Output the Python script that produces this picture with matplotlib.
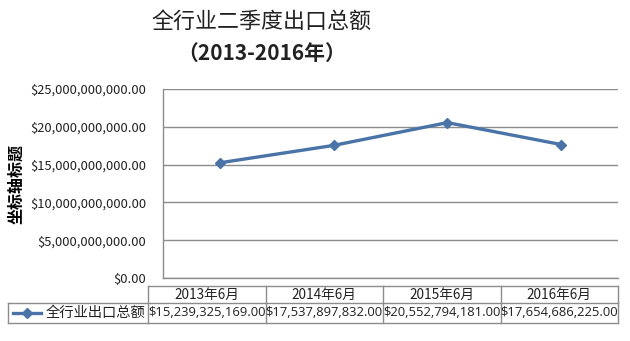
import matplotlib.pyplot as plt
from matplotlib.lines import Line2D

plt.rcParams['font.family'] = ['Noto Sans CJK SC', 'DejaVu Sans']

# ---------- données ----------
categories = ["2013年6月", "2014年6月", "2015年6月", "2016年6月"]
values = [15239325169.00, 17537897832.00, 20552794181.00, 17654686225.00]
series_name = "全行业出口总额"
yticks = [0, 5e9, 10e9, 15e9, 20e9, 25e9]

LINE_COLOR = "#4A74A8"
GRID_COLOR = "#8C8C8C"
W, H = 630, 341


def money(v):
    return f"${v:,.2f}"


fig = plt.figure(figsize=(W / 100, H / 100), dpi=100)

# ---------- titre ----------
fig.text(261 / W, 1 - 22 / H, "全行业二季度出口总额", ha="center", va="center",
         fontsize=15.8, color="#222222")
fig.text(262 / W, 1 - 53 / H, "（2013-2016年）", ha="center", va="center",
         fontsize=15, fontweight="bold", color="#222222")

# ---------- zone de tracé ----------
left, right, top, bottom = 163, 618, 89, 278
ax = fig.add_axes([left / W, 1 - bottom / H, (right - left) / W, (bottom - top) / H])
x = list(range(len(categories)))
ax.plot(x, values, color=LINE_COLOR, lw=2.4, marker="D", ms=5.5,
        markerfacecolor=LINE_COLOR, markeredgecolor=LINE_COLOR)
ax.set_xlim(-0.5, len(categories) - 0.5)
ax.set_ylim(0, 25e9)
ax.set_yticks(yticks)
ax.set_yticklabels([money(v) for v in yticks], fontsize=9.3, color="#222222")
ax.set_xticks([])
ax.tick_params(axis="y", length=0, pad=12)
ax.grid(axis="y", color=GRID_COLOR, lw=1)
ax.set_axisbelow(True)
for s in ["top", "right"]:
    ax.spines[s].set_visible(False)
for s in ["left", "bottom"]:
    ax.spines[s].set_color(GRID_COLOR)
    ax.spines[s].set_linewidth(1)
ax.set_ylabel("坐标轴标题", fontsize=11.5, fontweight="bold", labelpad=4)

# ---------- tableau de données ----------
t_left, t_right, t_top, t_bot = 8, 618, 286, 323
t_col0 = 148
t_mid = 303
tax = fig.add_axes([t_left / W, 1 - t_bot / H, (t_right - t_left) / W, (t_bot - t_top) / H])
tax.set_xlim(t_left, t_right)
tax.set_ylim(t_bot, t_top)
tax.axis("off")

n = len(categories)
col_w = (t_right - t_col0) / n
edges = [t_col0 + i * col_w for i in range(n + 1)]
ec = "#8C8C8C"
kw = dict(color=ec, lw=1, clip_on=False)
# lignes horizontales
tax.add_line(Line2D([t_col0, t_right], [t_top, t_top], **kw))
tax.add_line(Line2D([t_left, t_right], [t_mid, t_mid], **kw))
tax.add_line(Line2D([t_left, t_right], [t_bot, t_bot], **kw))
# lignes verticales
tax.add_line(Line2D([t_left, t_left], [t_mid, t_bot], **kw))
for e in edges:
    tax.add_line(Line2D([e, e], [t_top, t_bot], **kw))

for i, (cat, v) in enumerate(zip(categories, values)):
    cx = (edges[i] + edges[i + 1]) / 2
    tax.text(cx, (t_top + t_mid) / 2, cat, ha="center", va="center",
             fontsize=9.8, color="#222222")
    tax.text(cx, (t_mid + t_bot) / 2, money(v), ha="center", va="center",
             fontsize=9.4, color="#222222", family=["Open Sans", "DejaVu Sans"])

# légende dans le tableau
ly = (t_mid + t_bot) / 2
tax.add_line(Line2D([13, 41], [ly, ly], color=LINE_COLOR, lw=2.4, clip_on=False))
tax.add_line(Line2D([27], [ly], color=LINE_COLOR, marker="D", ms=5, clip_on=False))
tax.text(46, ly, series_name, ha="left", va="center", fontsize=10.3, color="#222222")

fig.savefig("out.png", dpi=100)
